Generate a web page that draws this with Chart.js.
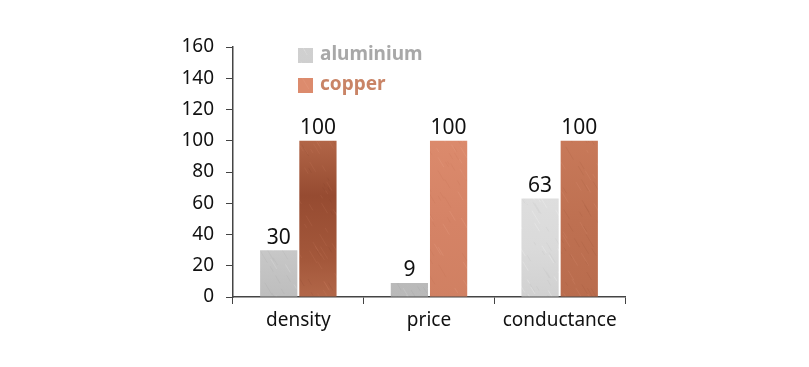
<!DOCTYPE html>
<html>
<head>
<meta charset="utf-8">
<script src="https://cdn.jsdelivr.net/npm/chart.js@4/dist/chart.umd.min.js"></script>
<style>
  html, body { margin: 0; padding: 0; background: #fff; }
  #wrap { width: 809px; height: 367px; }
</style>
</head>
<body>
<div id="wrap"><canvas id="chart" width="809" height="367"></canvas></div>
<script>
const categories = ['density', 'price', 'conductance'];
const aluminium = [30, 9, 63];
const copper = [100, 100, 100];
const yTicks = [0, 20, 40, 60, 80, 100, 120, 140, 160];

const FONT = '"Noto Sans", sans-serif';

// simple seeded noise so the metal texture is the same every run
let seed = 7;
function rnd() {
  seed = (seed * 16807) % 2147483647;
  return (seed - 1) / 2147483646;
}

// brushed metal texture: vertical gradient + fine diagonal streaks
function metal(stops, streakLight, streakDark) {
  const c = document.createElement('canvas');
  c.width = 809; c.height = 367;
  const g = c.getContext('2d');
  const grad = g.createLinearGradient(0, 40, 0, 300);
  stops.forEach(s => grad.addColorStop(s[0], s[1]));
  g.fillStyle = grad;
  g.fillRect(0, 0, c.width, c.height);
  g.lineWidth = 0.7;
  for (let i = 0; i < 2500; i++) {
    const x = rnd() * c.width;
    const y = rnd() * c.height;
    const len = 3 + rnd() * 10;
    g.strokeStyle = rnd() < 0.5 ? streakLight : streakDark;
    g.beginPath();
    g.moveTo(x, y);
    g.lineTo(x + len * 0.6, y + len);
    g.stroke();
  }
  return g.createPattern(c, 'no-repeat');
}

const ctx = document.getElementById('chart').getContext('2d');

const aluFills = [
  metal([[0, '#d0d0d0'], [0.8, '#c8c8c8'], [1, '#bdbdbd']], 'rgba(255,255,255,0.22)', 'rgba(120,120,120,0.12)'),
  metal([[0, '#c4c4c4'], [1, '#b9b9b9']], 'rgba(255,255,255,0.2)', 'rgba(110,110,110,0.12)'),
  metal([[0.3, '#e4e4e4'], [0.8, '#dadada'], [1, '#d0d0d0']], 'rgba(255,255,255,0.3)', 'rgba(130,130,130,0.1)')
];
const cuFills = [
  metal([[0.35, '#b66a4b'], [0.6, '#964b31'], [0.85, '#a4583b'], [1, '#b3684a']], 'rgba(235,160,130,0.15)', 'rgba(90,40,20,0.12)'),
  metal([[0.35, '#dc8b6d'], [0.7, '#d58366'], [1, '#d08062']], 'rgba(250,190,165,0.2)', 'rgba(150,70,45,0.1)'),
  metal([[0.35, '#c97a5a'], [0.7, '#be7051'], [1, '#b96c4d']], 'rgba(240,170,140,0.18)', 'rgba(110,50,30,0.12)')
];

const legendItems = [
  { label: 'aluminium', swatch: aluFills[0], text: '#a8a8a8' },
  { label: 'copper', swatch: cuFills[1], text: '#c98466' }
];

// value labels above every bar
const valueLabels = {
  id: 'valueLabels',
  afterDatasetsDraw(chart) {
    const c = chart.ctx;
    c.save();
    c.font = '21px ' + FONT;
    c.fillStyle = '#111';
    c.textAlign = 'center';
    c.textBaseline = 'bottom';
    chart.data.datasets.forEach((ds, i) => {
      chart.getDatasetMeta(i).data.forEach((bar, j) => {
        c.fillText(String(ds.data[j]), bar.x, bar.y - 2);
      });
    });
    c.restore();
  }
};

// legend inside the plot, top left
const insideLegend = {
  id: 'insideLegend',
  afterDraw(chart) {
    const c = chart.ctx;
    const a = chart.chartArea;
    c.save();
    c.font = 'bold 19px ' + FONT;
    c.textBaseline = 'middle';
    legendItems.forEach((it, i) => {
      const x = a.left + 65;
      const y = a.top + 8 + i * 30;
      c.fillStyle = it.swatch;
      c.fillRect(x, y - 7, 15, 15);
      c.fillStyle = it.text;
      c.fillText(it.label, x + 22, y);
    });
    c.restore();
  }
};

new Chart(ctx, {
  type: 'bar',
  data: {
    labels: categories,
    datasets: [
      { label: 'aluminium', data: aluminium, backgroundColor: aluFills, barPercentage: 0.95, categoryPercentage: 0.6 },
      { label: 'copper', data: copper, backgroundColor: cuFills, barPercentage: 0.95, categoryPercentage: 0.6 }
    ]
  },
  options: {
    responsive: false,
    animation: false,
    layout: { padding: { left: 0, right: 184, top: 47, bottom: 0 } },
    plugins: {
      legend: { display: false },
      tooltip: { enabled: false }
    },
    scales: {
      x: {
        afterFit(scale) { scale.height = 70; },
        border: { color: '#444', width: 1.5 },
        grid: { drawOnChartArea: false, color: '#444', tickLength: 7, offset: true },
        ticks: { color: '#111', font: { family: FONT, size: 19 }, padding: 5 }
      },
      y: {
        min: 0,
        max: 160,
        afterFit(scale) { scale.width = 233; },
        afterBuildTicks(scale) { scale.ticks = yTicks.map(v => ({ value: v })); },
        border: { color: '#444', width: 1.5 },
        grid: { drawOnChartArea: false, color: '#444', tickLength: 7 },
        ticks: { color: '#111', font: { family: FONT, size: 19 }, padding: 12 }
      }
    }
  },
  plugins: [valueLabels, insideLegend]
});
</script>
</body>
</html>
